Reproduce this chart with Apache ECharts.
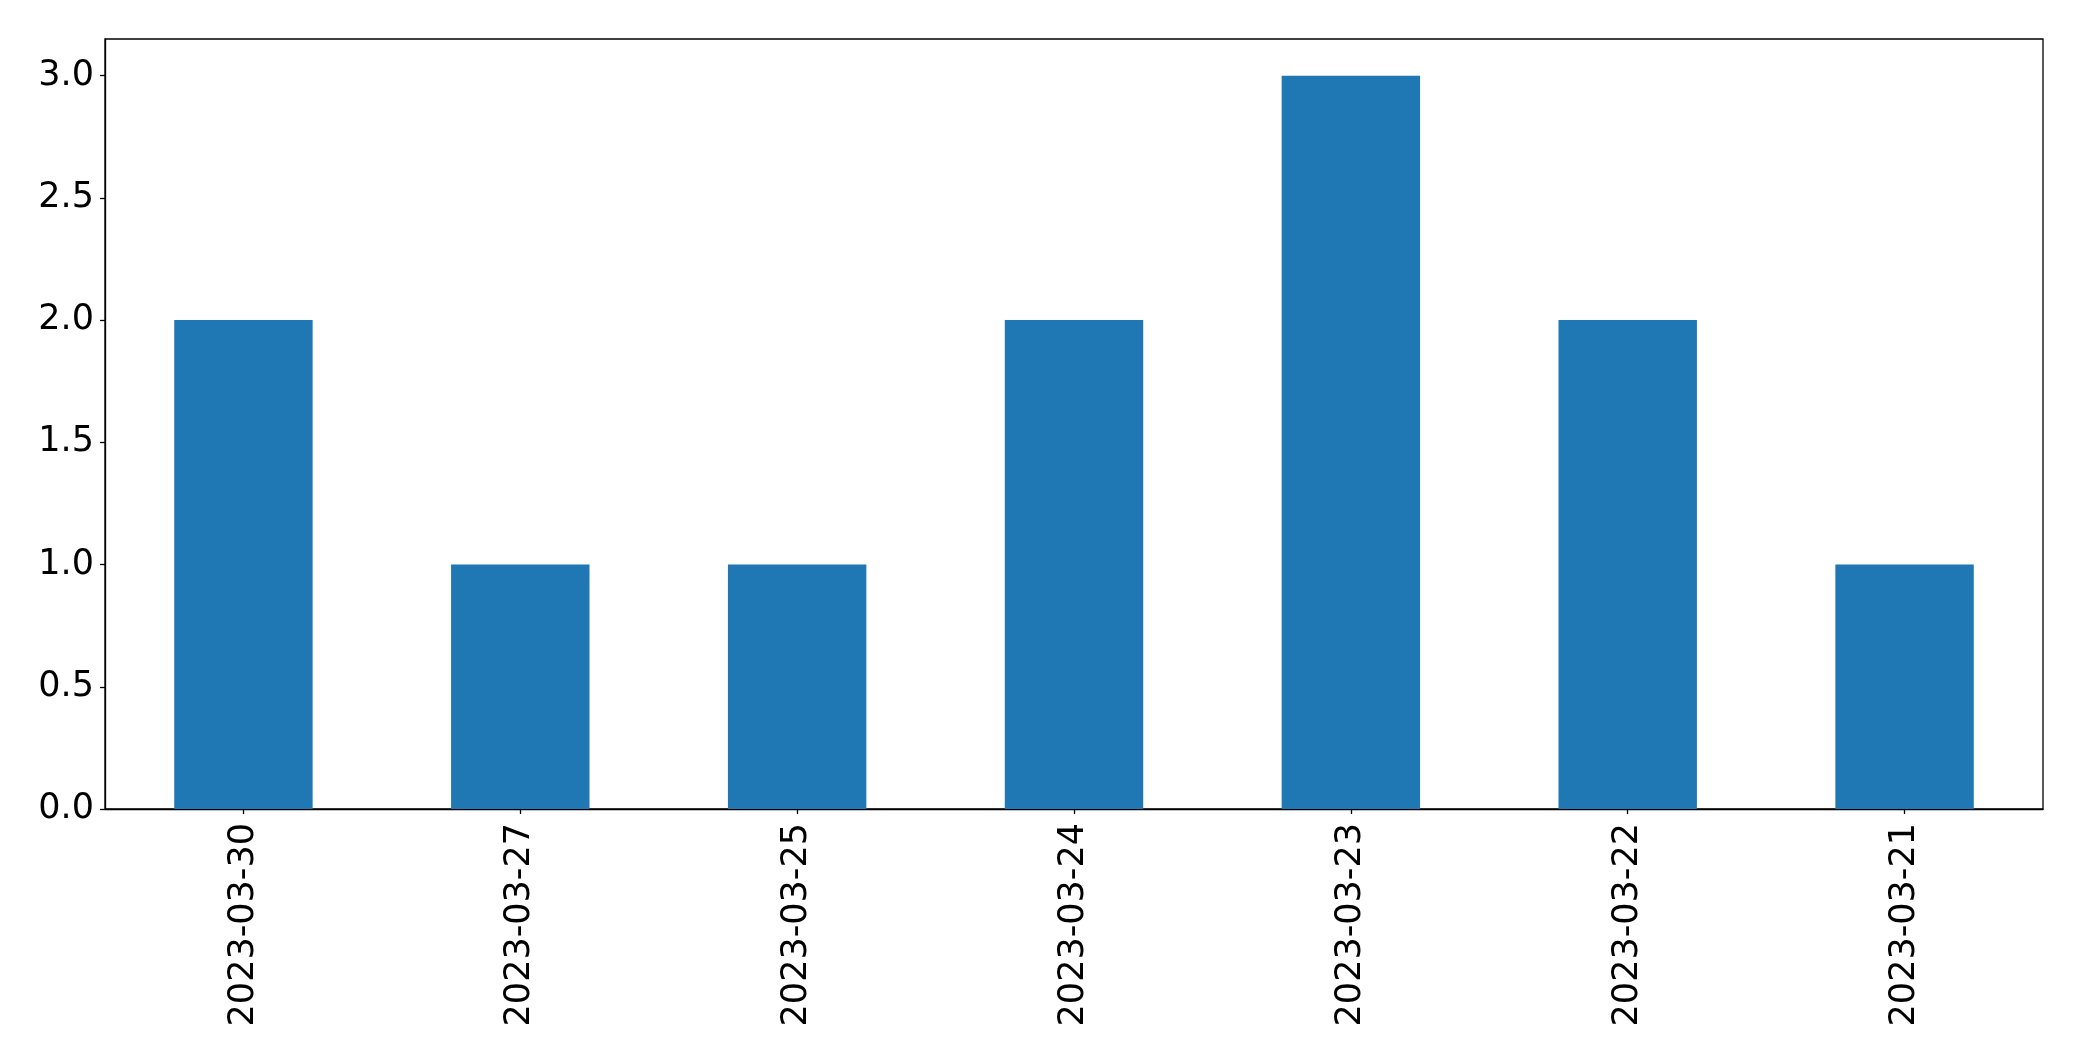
<!DOCTYPE html>
<html>
<head>
<meta charset="utf-8">
<script src="https://cdn.jsdelivr.net/npm/echarts@6/dist/echarts.min.js"></script>
<style>html,body{margin:0;padding:0;background:#fff;}#chart{width:2082px;height:1061px;}</style>
</head>
<body>
<div id="chart"></div>
<script>
const categories = ['2023-03-30','2023-03-27','2023-03-25','2023-03-24','2023-03-23','2023-03-22','2023-03-21'];
const counts = [2, 1, 1, 2, 3, 2, 1];
const yTicks = [0, 0.5, 1.0, 1.5, 2.0, 2.5, 3.0];

const chart = echarts.init(document.getElementById('chart'), null, {renderer: 'canvas'});
const font = 'DejaVu Sans';
chart.setOption({
  animation: false,
  backgroundColor: '#ffffff',
  grid: {left: 105, right: 39, top: 39, bottom: 252, show: true, borderColor: '#000', borderWidth: 1.3, backgroundColor: 'transparent'},
  xAxis: {
    type: 'category',
    data: categories,
    axisLine: {show: true, lineStyle: {color: '#000', width: 1.3}},
    axisTick: {show: true, alignWithLabel: true, length: 5, lineStyle: {color: '#000', width: 1.3}},
    axisLabel: {rotate: 90, margin: 14, fontFamily: font, fontSize: 35, color: '#000', interval: 0},
    splitLine: {show: false}
  },
  yAxis: {
    type: 'value',
    min: 0,
    max: 3.15,
    interval: 0.5,
    axisLine: {show: true, lineStyle: {color: '#000', width: 1.3}},
    axisTick: {show: true, length: 5, lineStyle: {color: '#000', width: 1.3}, customValues: yTicks},
    axisLabel: {margin: 11, fontFamily: font, fontSize: 35, color: '#000', customValues: yTicks,
      padding: [4, 0, 0, 0],
      formatter: v => v.toFixed(1)},
    splitLine: {show: false}
  },
  series: [{
    type: 'bar',
    data: counts,
    barWidth: '50%',
    itemStyle: {color: '#1f77b4'}
  }]
});
</script>
</body>
</html>
